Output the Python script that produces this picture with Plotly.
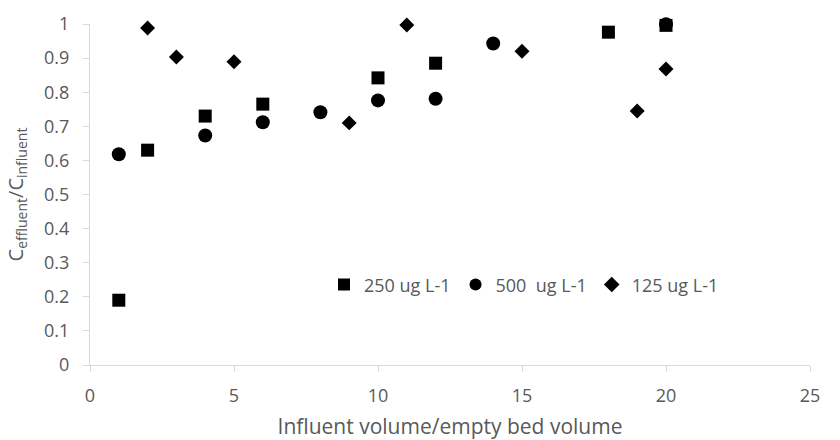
import plotly.graph_objects as go

x_250 = [1, 2, 4, 6, 10, 12, 18, 20]
y_250 = [0.19, 0.63, 0.73, 0.765, 0.842, 0.885, 0.976, 0.996]

x_500 = [1, 4, 6, 8, 10, 12, 14, 20]
y_500 = [0.618, 0.673, 0.712, 0.741, 0.776, 0.781, 0.943, 0.999]

x_125 = [2, 3, 5, 9, 11, 15, 19, 20]
y_125 = [0.988, 0.903, 0.889, 0.71, 0.997, 0.92, 0.745, 0.868]

names = ["250 ug L-1", "500  ug L-1", "125 ug L-1"]

FONT = "Open Sans"
GRAY = "#595959"

fig = go.Figure()
fig.add_trace(go.Scatter(x=x_500, y=y_500, mode="markers", name=names[1], cliponaxis=False,
                         marker=dict(symbol="circle", size=14, color="black"), legendrank=2))
fig.add_trace(go.Scatter(x=x_250, y=y_250, mode="markers", name=names[0], cliponaxis=False,
                         marker=dict(symbol="square", size=13, color="black"), legendrank=1))
fig.add_trace(go.Scatter(x=x_125, y=y_125, mode="markers", name=names[2], cliponaxis=False,
                         marker=dict(symbol="diamond", size=11.5, color="black"), legendrank=3))

fig.update_layout(
    width=840, height=440,
    margin=dict(l=90, r=30, t=24, b=75),
    paper_bgcolor="white", plot_bgcolor="white",
    font=dict(family=FONT, size=18, color=GRAY),
    showlegend=True,
    legend=dict(orientation="h", x=0.325, y=0.235, xanchor="left", yanchor="middle",
                bgcolor="rgba(0,0,0,0)", font=dict(size=18, color=GRAY),
                itemsizing="constant", tracegroupgap=0, itemwidth=30),
    xaxis=dict(range=[0, 25], dtick=5, tick0=0, showgrid=False, zeroline=False,
               showline=True, linecolor="#d9d9d9", linewidth=1, automargin=False,
               ticks="outside", ticklen=6, tickcolor="#d9d9d9", ticklabelstandoff=8,
               title=dict(text="Influent volume/empty bed volume", font=dict(size=21, color=GRAY)),
               tickfont=dict(size=18, color=GRAY)),
    yaxis=dict(range=[0, 1], dtick=0.1, tick0=0, showgrid=False, zeroline=False,
               showline=True, linecolor="#d9d9d9", linewidth=1, automargin=False,
               ticks="outside", ticklen=6, tickcolor="#d9d9d9", ticklabelstandoff=10,
               title=dict(text="C<sub>effluent</sub>/C<sub>influent</sub>", font=dict(size=20, color=GRAY)),
               tickfont=dict(size=18, color=GRAY)),
)

fig.write_html("out.html")
